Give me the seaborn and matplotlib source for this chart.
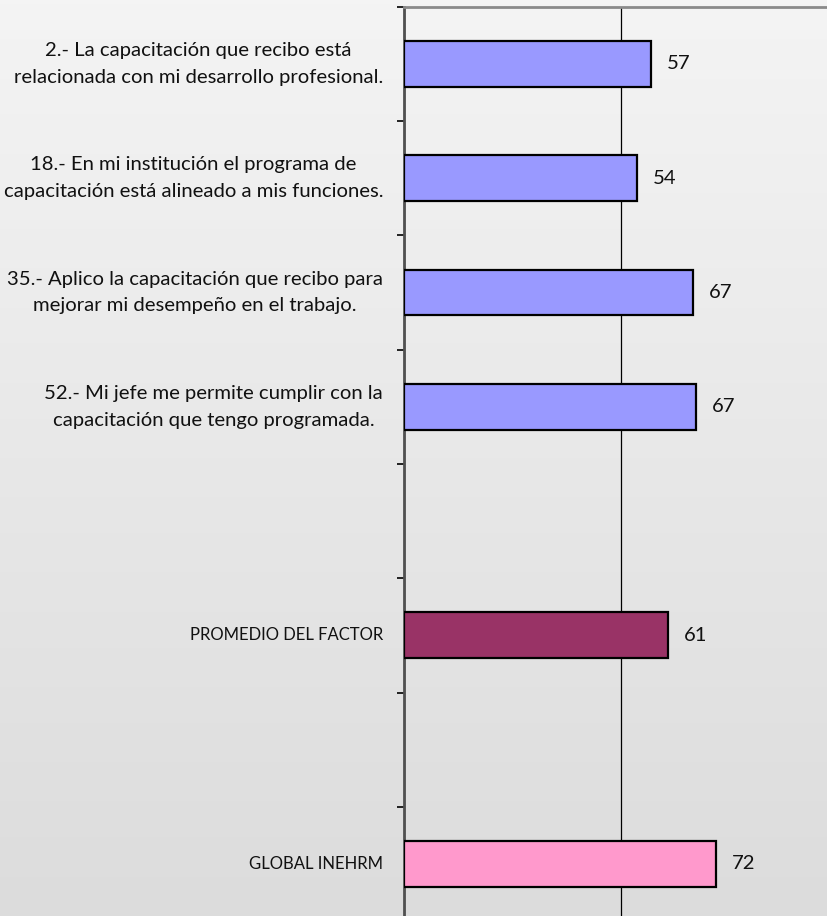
import numpy as np
import pandas as pd
import matplotlib
matplotlib.use("Agg")
import matplotlib.pyplot as plt
from matplotlib.colors import LinearSegmentedColormap
import seaborn as sns

# ---- data ----
categories = [
    "2.- La capacitación que recibo está\nrelacionada con mi desarrollo profesional.",
    "18.- En mi institución el programa de\ncapacitación está alineado a mis funciones.",
    "35.- Aplico la capacitación que recibo para\nmejorar mi desempeño en el trabajo.",
    "52.- Mi jefe me permite cumplir con la\ncapacitación que tengo programada.",
    "PROMEDIO DEL FACTOR",
    "GLOBAL INEHRM",
]
values = [56.8, 53.6, 66.6, 67.2, 60.9, 71.8]
bar_colors = ["#9999FF", "#9999FF", "#9999FF", "#9999FF", "#993366", "#FF99CC"]
# order including the two empty slots of the original chart
slot_order = [categories[0], categories[1], categories[2], categories[3], " ",
              categories[4], "  ", categories[5]]

df = pd.DataFrame({"pregunta": categories, "valor": values})
palette = dict(zip(categories, bar_colors))

sns.set_theme(style="white")
plt.rcParams["font.family"] = ["Lato", "DejaVu Sans"]

W, H = 828, 916
fig = plt.figure(figsize=(W / 100, H / 100), dpi=100)

# gradient background
bg = fig.add_axes([0, 0, 1, 1], zorder=-10)
grad = np.linspace(0, 1, 256).reshape(-1, 1)
cmap = LinearSegmentedColormap.from_list("bg", ["#f4f4f4", "#dcdcdc"])
bg.imshow(grad, aspect="auto", cmap=cmap, extent=[0, 1, 0, 1], origin="upper")
bg.set_axis_off()

top_px = 6.7
slot = 114.3
n_slots = len(slot_order)
left_px = 404
px_per_unit = 4.34
ax = fig.add_axes([left_px / W, (H - top_px - n_slots * slot) / H,
                   100 * px_per_unit / W, n_slots * slot / H])
ax.set_facecolor("none")

sns.barplot(data=df, x="valor", y="pregunta", hue="pregunta", order=slot_order,
            palette=palette, saturation=1, width=0.4, dodge=False, legend=False,
            edgecolor="black", linewidth=1.6, ax=ax, zorder=3)

ax.set_xlim(0, 100)
ax.set_ylim(n_slots - 0.5, -0.5)
ax.set_xticks([0, 50, 100])
ax.set_xticklabels([])
ax.tick_params(axis="x", length=0)
ax.xaxis.grid(True, color="black", linewidth=0.9)
ax.set_axisbelow(True)
ax.set_xlabel("")
ax.set_ylabel("")

# y ticks: labels at centers, tick marks at slot boundaries
ax.set_yticks(range(n_slots))
ax.set_yticklabels([s.strip() for s in slot_order], fontsize=14.6, color="#111111",
                   multialignment="center", linespacing=1.7, va="center")
for lbl in ax.get_yticklabels():
    if lbl.get_text().isupper():
        lbl.set_fontsize(12.0)
ax.tick_params(axis="y", which="major", length=0, pad=15)
ax.set_yticks(np.arange(-0.5, n_slots, 1.0), minor=True)
ax.tick_params(axis="y", which="minor", length=5, width=1.2, color="black",
               direction="out", left=True)

for side in ["right", "bottom"]:
    ax.spines[side].set_visible(False)
ax.spines["left"].set_color("#505050")
ax.spines["left"].set_linewidth(2.0)
ax.spines["top"].set_color("#8a8a8a")
ax.spines["top"].set_linewidth(2.0)

# value labels
for i, name in enumerate(slot_order):
    if name in categories:
        v = values[categories.index(name)]
        ax.text(v + 3.7, i, f"{v:.0f}", va="center", ha="left",
                fontsize=14.6, color="#111111")

fig.savefig("out.png", dpi=100)
